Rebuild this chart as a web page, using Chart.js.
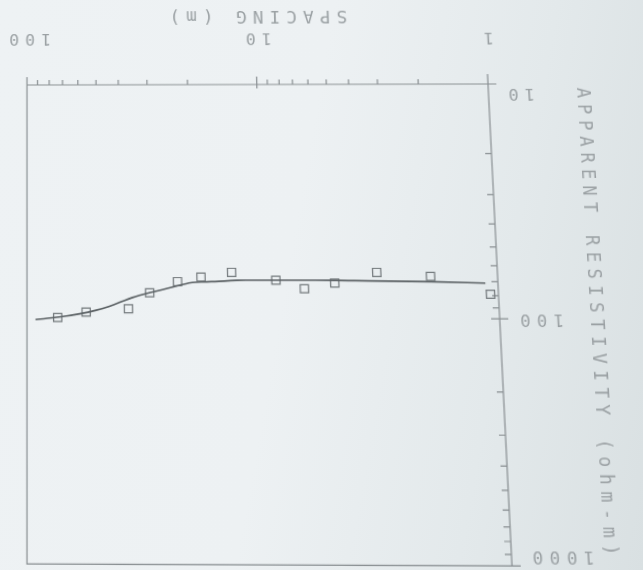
<!DOCTYPE html>
<html>
<head>
<meta charset="utf-8">
<script src="https://cdn.jsdelivr.net/npm/chart.js@4/dist/chart.umd.min.js"></script>
<style>
  html, body { margin: 0; padding: 0; width: 643px; height: 570px; overflow: hidden; }
  body { background: linear-gradient(100deg, #eef2f4 0%, #edf1f3 45%, #e3e9eb 75%, #d9e0e2 100%); position: relative; }
  #c { position: absolute; left: 0; top: 0; }
</style>
</head>
<body>
<canvas id="c" width="643" height="570"></canvas>
<script>
// ---- data read from the (photographed, upside-down) sounding plot ----
const spacing = [1.08, 1.92, 3.24, 4.9, 6.6, 8.7, 13.4, 18.1, 22.8, 30, 37, 56, 74];
const apparentRes = [79, 66.5, 64, 71, 75, 69, 64, 67, 70, 78, 91, 94, 99];
const modelSpacing = [1.13, 1.92, 3.5, 6.4, 11.7, 15.8, 20.4, 25.5, 34.5, 48, 65, 92];
const modelRes = [71, 70, 69.5, 69, 69, 70, 71, 75, 81, 91, 97, 101];
const xTickValues = [1, 2, 3, 4, 5, 6, 7, 8, 9, 10, 20, 30, 40, 50, 60, 70, 80, 90, 100];
const yTickValues = [10, 20, 30, 40, 50, 60, 70, 80, 90, 100, 200, 300, 400, 500, 600, 700, 800, 900, 1000];
const xTickLabels = [1, 10, 100];
const yTickLabels = [10, 100, 1000];
const xTitle = 'SPACING (m)';
const yTitle = 'APPARENT RESISTIVITY (ohm-m)';

const INK = '#8b9194';
const TEXT = '#9ba1a4';
const FONT = "'DejaVu Sans Mono', 'Liberation Mono', monospace";

const plotterPlugin = {
  id: 'plotter',
  beforeDraw(chart) { chart.ctx.letterSpacing = '6px'; },
  beforeDatasetsDraw(chart) {
    const ctx = chart.ctx, a = chart.chartArea;
    const xs = chart.scales.x, ys = chart.scales.y;
    ctx.letterSpacing = '1px';
    ctx.save();
    ctx.strokeStyle = INK;
    ctx.lineWidth = 1.2;
    ctx.beginPath();
    ctx.rect(a.left, a.top, a.right - a.left, a.bottom - a.top);
    xs.ticks.forEach(t => {
      const p = xs.getPixelForValue(t.value);
      const major = xTickLabels.includes(t.value);
      ctx.moveTo(p, a.bottom - (major ? 4 : 0));
      ctx.lineTo(p, a.bottom + (major ? 8 : 5));
    });
    ys.ticks.forEach(t => {
      const p = ys.getPixelForValue(t.value);
      const major = yTickLabels.includes(t.value);
      ctx.moveTo(a.left - (major ? 8 : 0), p);
      ctx.lineTo(a.left + (major ? 8 : 6), p);
    });
    ctx.moveTo(a.left, a.bottom);
    ctx.lineTo(a.left, a.bottom + 10);
    ctx.stroke();
    ctx.restore();
  },
  afterDraw(chart) { chart.ctx.letterSpacing = '0px'; }
};

// first / last y labels sit just inside the axis ends (two-line label, one line empty)
function yLabel(v) {
  if (!yTickLabels.includes(v)) return '';
  if (v === yTickLabels[0]) return [String(v), ''];
  if (v === yTickLabels[yTickLabels.length - 1]) return ['', String(v)];
  return String(v);
}

const chart = new Chart(document.getElementById('c'), {
  type: 'scatter',
  data: {
    datasets: [
      {
        type: 'line',
        data: modelSpacing.map((s, i) => ({ x: s, y: modelRes[i] })),
        borderColor: '#5c6265',
        borderWidth: 1.6,
        pointRadius: 0,
        cubicInterpolationMode: 'monotone',
        fill: false
      },
      {
        data: spacing.map((s, i) => ({ x: s, y: apparentRes[i] })),
        pointStyle: 'rect',
        pointRadius: 5.5,
        borderColor: '#767c7f',
        borderWidth: 1.2,
        backgroundColor: 'rgba(0,0,0,0)'
      }
    ]
  },
  options: {
    responsive: false,
    animation: false,
    devicePixelRatio: 1,
    layout: { padding: { top: 5, right: 27, left: 0, bottom: 0 } },
    plugins: { legend: { display: false }, tooltip: { enabled: false } },
    scales: {
      x: {
        type: 'logarithmic', position: 'bottom', min: 1, max: 100,
        afterBuildTicks: s => { s.ticks = xTickValues.map(v => ({ value: v })); },
        afterFit: s => { s.height = 85; },
        grid: { display: false }, border: { display: false },
        ticks: {
          autoSkip: false, maxRotation: 0, padding: 30, color: TEXT,
          font: { family: FONT, size: 16 },
          callback: v => xTickLabels.includes(v) ? String(v) : ''
        },
        title: { display: true, text: xTitle, color: TEXT, font: { family: FONT, size: 17 }, padding: { top: 0, bottom: 4 } }
      },
      y: {
        type: 'logarithmic', position: 'left', min: 10, max: 1000,
        afterBuildTicks: s => { s.ticks = yTickValues.map(v => ({ value: v })); },
        afterFit: s => { s.width = 154; },
        grid: { display: false }, border: { display: false },
        ticks: {
          autoSkip: false, padding: 5, color: TEXT,
          font: { family: FONT, size: 16, lineHeight: 1.1 },
          callback: yLabel
        },
        title: { display: true, text: yTitle, color: TEXT, font: { family: FONT, size: 17 }, padding: { top: 54, bottom: 0 } }
      }
    }
  },
  plugins: [plotterPlugin]
});

// photographed page: upside down and slightly keystoned -> projective map of the canvas
function solveHomography(src, dst) {
  const A = [], B = [];
  for (let i = 0; i < 4; i++) {
    const [x, y] = src[i], [u, v] = dst[i];
    A.push([x, y, 1, 0, 0, 0, -u * x, -u * y]); B.push(u);
    A.push([0, 0, 0, x, y, 1, -v * x, -v * y]); B.push(v);
  }
  const n = 8;
  for (let c = 0; c < n; c++) {
    let p = c;
    for (let r = c + 1; r < n; r++) if (Math.abs(A[r][c]) > Math.abs(A[p][c])) p = r;
    [A[c], A[p]] = [A[p], A[c]]; [B[c], B[p]] = [B[p], B[c]];
    for (let r = 0; r < n; r++) {
      if (r === c) continue;
      const f = A[r][c] / A[c][c];
      for (let k = c; k < n; k++) A[r][k] -= f * A[c][k];
      B[r] -= f * B[c];
    }
  }
  return B.map((b, i) => b / A[i][i]);
}
const ca = chart.chartArea;
const src = [[ca.left, ca.top], [ca.right, ca.top], [ca.left, ca.bottom], [ca.right, ca.bottom]];
const dst = [[512, 566], [27, 564], [488, 84], [27, 85]];
const [a, b, c, d, e, f, g, h] = solveHomography(src, dst);
const cv = document.getElementById('c');
cv.style.transformOrigin = '0 0';
cv.style.transform = `matrix3d(${a},${d},0,${g},${b},${e},0,${h},0,0,1,0,${c},${f},0,1)`;
</script>
</body>
</html>
